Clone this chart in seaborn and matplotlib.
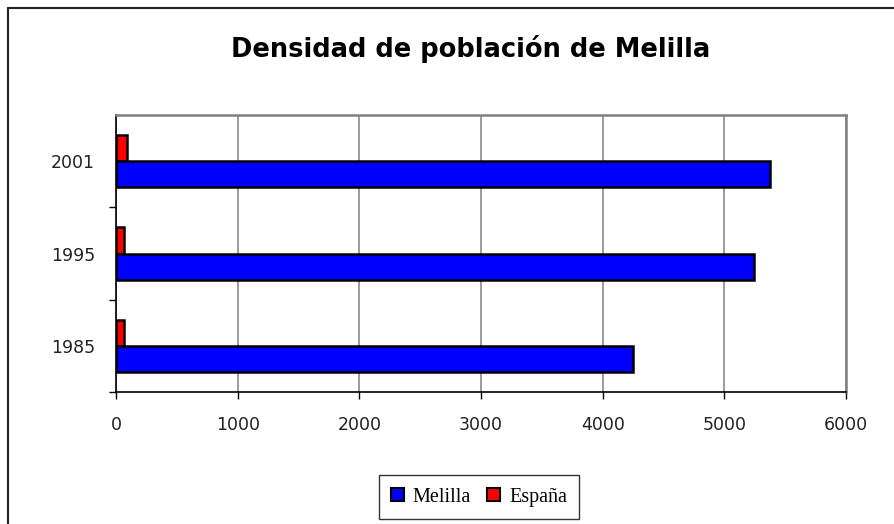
import pandas as pd
import matplotlib
matplotlib.use('Agg')
import seaborn as sns
import matplotlib.pyplot as plt
from matplotlib.lines import Line2D
from matplotlib.patches import Patch

# data
years = ['2001', '1995', '1985']
melilla = [5375, 5240, 4250]
espana = [88, 65, 65]
series = ['Melilla', 'España']
colors = {'Melilla': '#0000ff', 'España': '#ff0000'}
xticks = [0, 1000, 2000, 3000, 4000, 5000, 6000]

df = pd.DataFrame({
	'year': years * 2,
	'value': melilla + espana,
	'serie': ['Melilla'] * len(years) + ['España'] * len(years),
})

sns.set_style('white')
plt.rcParams['font.family'] = ['DejaVu Sans']
plt.rcParams['text.color'] = 'black'

fig = plt.figure(figsize=(8.94, 5.24), dpi=100)
ax = fig.add_axes([0.1298, 0.2519, 0.8165, 0.5286])

# España on top of each pair, like the original
sns.barplot(data=df, x='value', y='year', hue='serie', order=years,
	hue_order=['España', 'Melilla'], palette=colors, width=0.57, saturation=1,
	edgecolor='black', linewidth=1.8, legend=False, ax=ax)

ax.set_xlim(0, 6000)
ax.set_ylim(2.5, -0.5)
ax.set_xticks(xticks)
ax.set_xticklabels([str(t) for t in xticks], fontsize=12.5, color='#222222')
ax.set_yticklabels(years, fontsize=12.5, color='#222222')
ax.set_xlabel('')
ax.set_ylabel('')
ax.xaxis.grid(True, color='#808080', linewidth=1.1)
ax.set_axisbelow(True)

# ticks between categories on the y axis
ax.set_yticks([0.5, 1.5, 2.5], minor=True)
ax.tick_params(axis='y', which='major', length=0, pad=15)
ax.tick_params(axis='y', which='minor', length=5, width=1, color='black', direction='out', left=True)
ax.tick_params(axis='x', which='major', length=5, width=1, color='black', direction='out', bottom=True, pad=12)

for side in ['left', 'bottom']:
	ax.spines[side].set_color('black')
	ax.spines[side].set_linewidth(1.2)
for side in ['top', 'right']:
	ax.spines[side].set_color('#808080')
	ax.spines[side].set_linewidth(1.8)

fig.text(0.526, 0.907, 'Densidad de población de Melilla', ha='center', va='center',
	fontsize=18.5, fontweight='bold', color='black', family='DejaVu Sans')

handles = [Patch(facecolor=colors[s], edgecolor='black', linewidth=1.5) for s in series]
leg = fig.legend(handles, series, loc='center', bbox_to_anchor=(0.5358, 0.0515),
	ncol=2, frameon=True, fancybox=False, handlelength=0.65, handleheight=0.65,
	handletextpad=0.45, columnspacing=0.8, borderpad=0.6,
	prop={'family': 'Liberation Serif', 'size': 14.5})
leg.get_frame().set_edgecolor('black')
leg.get_frame().set_linewidth(1)

# outer chart frame, only left and top edges show
fig.add_artist(Line2D([0.0095, 0.0095], [0, 0.9847], color='#222222', linewidth=1.5))
fig.add_artist(Line2D([0.0095, 1], [0.9847, 0.9847], color='#222222', linewidth=1.5))

plt.savefig('out.png', dpi=100)
